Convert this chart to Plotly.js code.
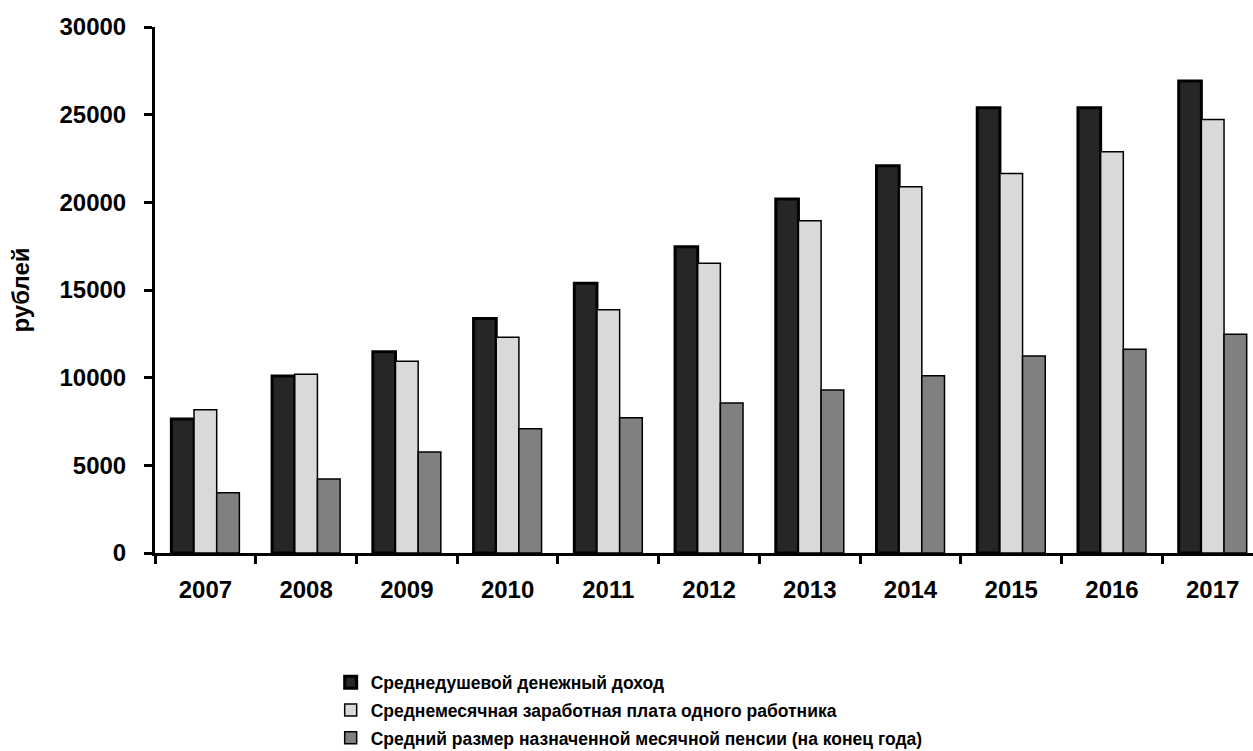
<!DOCTYPE html>
<html><head><meta charset="utf-8">
<script src="https://cdn.plot.ly/plotly-3.0.1.min.js"></script>
<style>html,body{margin:0;padding:0;background:#fff;}#chart{width:1253px;height:751px;}</style>
</head><body><div id="chart"></div>
<script>
const years = ["2007","2008","2009","2010","2011","2012","2013","2014","2015","2016","2017"];
const seriesNames = [
  "Среднедушевой денежный доход",
  "Среднемесячная заработная плата одного работника",
  "Средний размер назначенной месячной пенсии (на конец года)"
];
const income = [7640, 10100, 11480, 13380, 15380, 17470, 20190, 22090, 25400, 25400, 26920];
const salary = [8170, 10190, 10930, 12300, 13880, 16520, 18950, 20890, 21650, 22890, 24730];
const pension = [3440, 4220, 5760, 7090, 7720, 8560, 9300, 10110, 11240, 11620, 12470];
const yTicks = [0, 5000, 10000, 15000, 20000, 25000, 30000];

const FONT = '"Liberation Sans", Arial, sans-serif';

const traces = [
  {type:'bar', name: seriesNames[0], legendgroup:'g1', x: years, y: income,
   marker:{color:'#262626', line:{color:'#000', width:3}}},
  {type:'bar', name: seriesNames[1], legendgroup:'g2', x: years, y: salary,
   marker:{color:'#d9d9d9', line:{color:'#000', width:1.5}}},
  {type:'bar', name: seriesNames[2], legendgroup:'g3', x: years, y: pension,
   marker:{color:'#808080', line:{color:'#000', width:1.5}}}
];

const layout = {
  width:1253, height:751,
  paper_bgcolor:'#fff', plot_bgcolor:'#fff',
  margin:{l:155, r:0, t:27, b:198, autoexpand:false},
  barmode:'group', bargap:0.325, bargroupgap:0,
  font:{family:FONT, color:'#000'},
  showlegend:true,
  legend:{orientation:'v', x:0.16, y:-0.2117, xanchor:'left', yanchor:'top',
          font:{family:FONT, size:17.5, color:'#000', weight:'bold'},
          tracegroupgap:2, itemwidth:30, bgcolor:'rgba(0,0,0,0)'},
  xaxis:{type:'category', range:[-0.5, 10.4], showline:true, linecolor:'#000', linewidth:3,
         ticks:'outside', tickson:'boundaries', ticklen:8, tickwidth:3, tickcolor:'#000',
         showgrid:false, zeroline:false, ticklabelstandoff:13,
         tickfont:{family:FONT, size:24, color:'#000', weight:'bold'}},
  yaxis:{range:[0,30000], tickvals:yTicks, ticktext:yTicks.map(String),
         showline:true, linecolor:'#000', linewidth:3, ticks:'outside', ticklen:8, tickwidth:3, tickcolor:'#000',
         showgrid:false, zeroline:false, ticklabelstandoff:13,
         tickfont:{family:FONT, size:24, color:'#000', weight:'bold'},
         title:{text:'рублей', standoff:24, font:{family:FONT, size:24, color:'#000', weight:'bold'}}}
};
Plotly.newPlot('chart', traces, layout, {displayModeBar:false, staticPlot:true});
</script></body></html>
